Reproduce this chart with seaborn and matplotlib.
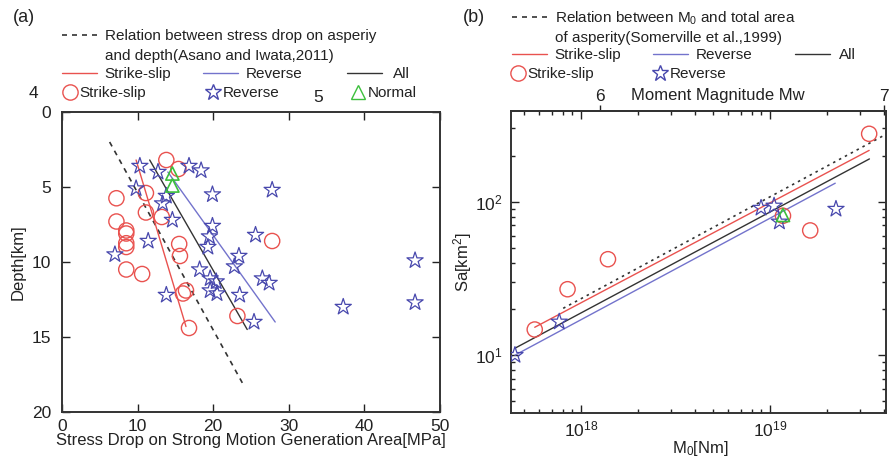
import numpy as np
import matplotlib
matplotlib.use("Agg")
import matplotlib.pyplot as plt
import seaborn as sns
from matplotlib.lines import Line2D
from matplotlib.ticker import FixedLocator, NullLocator, LogLocator, NullFormatter

# ---------------- data: panel (a) ----------------
ss_stress = [13.8, 15.4, 7.2, 11.1, 11.1, 13.2, 7.2, 8.5, 8.5, 8.5, 8.5, 15.5, 15.6,
             8.5, 10.6, 16.4, 16.0, 27.8, 16.8, 23.2]
ss_depth = [3.2, 3.8, 5.75, 5.4, 6.7, 7.0, 7.3, 7.9, 8.1, 8.75, 9.0, 8.8, 9.6,
            10.5, 10.8, 11.9, 12.1, 8.6, 14.4, 13.6]
rev_stress = [10.3, 12.7, 16.8, 18.4, 9.8, 19.9, 13.8, 13.3, 14.6, 27.8, 19.9, 19.5, 19.3,
              11.4, 7.0, 25.6, 23.4, 22.8, 18.2, 19.6, 26.5, 27.4, 20.4, 13.8, 20.5, 23.5,
              25.4, 37.2, 46.7, 46.7, 19.6]
rev_depth = [3.6, 4.0, 3.6, 3.9, 5.1, 5.5, 5.6, 6.1, 7.2, 5.2, 7.6, 8.3, 9.0,
             8.6, 9.5, 8.2, 9.6, 10.3, 10.5, 11.1, 11.1, 11.4, 11.3, 12.2, 12.1, 12.2,
             14.0, 13.0, 9.9, 12.7, 11.9]
nor_stress = [14.6, 14.6]
nor_depth = [4.1, 4.9]
# fitted relations (end points)
ss_fit_x, ss_fit_y = [9.8, 16.4], [3.2, 14.3]
rev_fit_x, rev_fit_y = [14.0, 28.2], [4.0, 14.0]
all_fit_x, all_fit_y = [11.6, 24.5], [3.2, 14.5]
asano_x, asano_y = [6.3, 23.9], [2.0, 18.1]

# ---------------- data: panel (b) ----------------
ss_m0 = [5.7e17, 8.5e17, 1.39e18, 1.17e19, 1.63e19, 3.34e19]
ss_sa = [14.7, 26.9, 42.2, 81.0, 65.0, 277.0]
rev_m0 = [4.48e17, 7.68e17, 8.96e18, 1.05e19, 1.12e19, 2.23e19]
rev_sa = [10.0, 16.5, 91.0, 94.0, 74.0, 89.6]
nor_m0 = [1.17e19]
nor_sa = [82.0]
somer_m0, somer_sa = [8.06e17, 4.1e19], [20.2, 275.0]
ss_fit_m0, ss_fit_sa = [5.7e17, 3.34e19], [15.2, 216.0]
all_fit_m0, all_fit_sa = [4.48e17, 3.35e19], [11.1, 190.0]
rev_fit_m0, rev_fit_sa = [4.48e17, 2.21e19], [10.0, 132.0]

a_xticks = [0, 10, 20, 30, 40, 50]
a_yticks = [0, 5, 10, 15, 20]
b_xticks = [1e18, 1e19]
b_yticks = [10, 100]
mw_ticks = [6, 7]

# ---------------- style ----------------
sns.set_theme(style="ticks")
plt.rcParams["font.family"] = ["Liberation Sans", "DejaVu Sans"]
plt.rcParams["mathtext.fontset"] = "custom"
plt.rcParams["mathtext.rm"] = "Liberation Sans"
plt.rcParams["mathtext.it"] = "Liberation Sans:italic"
plt.rcParams["text.color"] = "#222222"
plt.rcParams["axes.labelcolor"] = "#222222"

RED = "#e9524f"
BLUE_L = "#7373cc"
BLUE_S = "#4848ad"
BLACK = "#333333"
GREEN = "#3cbf3c"
W, H = 890, 465

fig = plt.figure(figsize=(8.9, 4.65), dpi=100)
axa = fig.add_axes([62 / W, 53 / H, 378 / W, 300 / H])
axb = fig.add_axes([511 / W, 52 / H, 375 / W, 302 / H])

# ---------------- panel (a) ----------------
sns.lineplot(x=asano_x, y=asano_y, ax=axa, color=BLACK, lw=1.2, ls=(0, (3, 3)),
             sort=False, estimator=None)
sns.lineplot(x=ss_fit_x, y=ss_fit_y, ax=axa, color=RED, lw=1.0, sort=False, estimator=None)
sns.lineplot(x=all_fit_x, y=all_fit_y, ax=axa, color=BLACK, lw=1.0, sort=False, estimator=None)
sns.lineplot(x=rev_fit_x, y=rev_fit_y, ax=axa, color=BLUE_L, lw=1.0, sort=False, estimator=None)
sns.scatterplot(x=ss_stress, y=ss_depth, ax=axa, marker="o", s=120, color=RED,
                facecolor="none", edgecolor=RED, linewidth=1.0, zorder=3)
sns.scatterplot(x=rev_stress, y=rev_depth, ax=axa, marker="*", s=150, color=BLUE_S,
                facecolor="none", edgecolor=BLUE_S, linewidth=0.9, zorder=3)
sns.scatterplot(x=nor_stress, y=nor_depth, ax=axa, marker="^", s=90, color=GREEN,
                facecolor="none", edgecolor=GREEN, linewidth=1.2, zorder=4)
axa.set_xlim(0, 50)
axa.set_ylim(20, 0)
axa.set_xticks(a_xticks)
axa.set_yticks(a_yticks)
axa.set_xlabel("Stress Drop on Strong Motion Generation Area[MPa]", fontsize=12)
axa.set_ylabel("Depth[km]", fontsize=12)
axa.xaxis.set_label_coords(0.5, -0.07)
axa.yaxis.set_label_coords(-0.095, 0.5)
axa.tick_params(which="both", direction="in", top=True, right=True, length=6, width=1,
                labelsize=12.5, colors="#222222")
axa.tick_params(axis="x", pad=5)
axa.tick_params(axis="y", pad=8)

# ---------------- panel (b) ----------------
axb.set_xscale("log")
axb.set_yscale("log")
axb.set_xlim(4.27e17, 4.1e19)
axb.set_ylim(4.2, 390)
sns.lineplot(x=somer_m0, y=somer_sa, ax=axb, color=BLACK, lw=1.2, ls=(0, (1.5, 2.5)),
             sort=False, estimator=None)
sns.lineplot(x=ss_fit_m0, y=ss_fit_sa, ax=axb, color=RED, lw=1.0, sort=False, estimator=None)
sns.lineplot(x=all_fit_m0, y=all_fit_sa, ax=axb, color=BLACK, lw=1.0, sort=False, estimator=None)
sns.lineplot(x=rev_fit_m0, y=rev_fit_sa, ax=axb, color=BLUE_L, lw=1.0, sort=False, estimator=None)
sns.scatterplot(x=ss_m0, y=ss_sa, ax=axb, marker="o", s=120, color=RED,
                facecolor="none", edgecolor=RED, linewidth=1.0, zorder=3)
sns.scatterplot(x=rev_m0, y=rev_sa, ax=axb, marker="*", s=150, color=BLUE_S,
                facecolor="none", edgecolor=BLUE_S, linewidth=0.9, zorder=3)
sns.scatterplot(x=nor_m0, y=nor_sa, ax=axb, marker="^", s=90, color=GREEN,
                facecolor="none", edgecolor=GREEN, linewidth=1.2, zorder=4)
axb.set_xlim(4.27e17, 4.1e19)
axb.set_ylim(4.2, 390)
axb.xaxis.set_major_locator(FixedLocator(b_xticks))
axb.xaxis.set_minor_locator(LogLocator(base=10, subs=np.arange(2, 10)))
axb.xaxis.set_minor_formatter(NullFormatter())
axb.yaxis.set_major_locator(FixedLocator(b_yticks))
axb.yaxis.set_minor_locator(LogLocator(base=10, subs=np.arange(2, 10)))
axb.yaxis.set_minor_formatter(NullFormatter())
axb.set_xlabel(r"M$_0$[Nm]", fontsize=12)
axb.set_ylabel(r"Sa[km$^2$]", fontsize=12)
axb.xaxis.set_label_coords(0.504, -0.085)
axb.yaxis.set_label_coords(-0.10, 0.5)
axb.tick_params(which="both", direction="in", top=True, right=True, width=1,
                labelsize=12.5, colors="#222222")
axb.tick_params(which="major", length=6)
axb.tick_params(which="minor", length=3)
axb.tick_params(axis="x", pad=5)
axb.tick_params(axis="y", pad=6)


def m0_to_mw(x):
    x = np.clip(np.asarray(x, dtype=float), 1e-300, None)
    return (np.log10(x) - 9.1) / 1.5


def mw_to_m0(m):
    return 10 ** (1.5 * np.asarray(m, dtype=float) + 9.1)


sec = axb.secondary_xaxis("top", functions=(m0_to_mw, mw_to_m0))
sec.set_xticks(mw_ticks, [str(t) for t in mw_ticks])
sec.xaxis.set_minor_locator(NullLocator())
sec.tick_params(direction="out", length=4, width=1, labelsize=12.5, pad=1, colors="#222222")
axb.text(0.552, 1.05, "Moment Magnitude Mw", transform=axb.transAxes, ha="center",
         va="center", fontsize=12)

for ax in (axa, axb):
    for sp in ax.spines.values():
        sp.set_linewidth(1.4)
        sp.set_color("#333333")
for sp in sec.spines.values():
    sp.set_linewidth(1.4)
    sp.set_color("#333333")

# ---------------- legends ----------------
LFS = 11


def entry(ax, handle, label, x_px, y_px, hl, pad):
    leg = ax.legend([handle], [label], loc="center left",
                    bbox_to_anchor=(x_px / W, 1 - y_px / H), bbox_transform=fig.transFigure,
                    frameon=False, borderpad=0, borderaxespad=0, handlelength=hl,
                    handletextpad=pad, fontsize=LFS)
    ax.legend_ = None
    ax.add_artist(leg)


def line_h(color, ls="-"):
    return Line2D([], [], color=color, lw=1.0 if ls == "-" else 1.2, ls=ls)


def mark_h(marker, color, ms):
    return Line2D([], [], ls="none", marker=marker, mfc="none", mec=color, ms=ms, mew=1.0)


# panel (a)
entry(axa, line_h(BLACK, (0, (3, 3))), "Relation between stress drop on asperiy", 62, 36, 2.3, 0.5)
fig.text(105 / W, 1 - 56 / H, "and depth(Asano and Iwata,2011)", fontsize=LFS, va="center", ha="left")
entry(axa, line_h(RED), "Strike-slip", 62, 74, 2.3, 0.5)
entry(axa, line_h(BLUE_L), "Reverse", 203, 74, 2.3, 0.5)
entry(axa, line_h(BLACK), "All", 347, 74, 2.3, 0.7)
entry(axa, mark_h("o", RED, 11), "Strike-slip", 62, 93, 1.0, 0.15)
entry(axa, mark_h("*", BLUE_S, 12), "Reverse", 205, 93, 1.0, 0.15)
entry(axa, mark_h("^", GREEN, 10), "Normal", 350, 93, 1.0, 0.15)

# panel (b)
entry(axb, line_h(BLACK, (0, (3, 3))), r"Relation between M$_0$ and total area", 512, 18, 2.3, 0.5)
fig.text(555 / W, 1 - 38 / H, "of asperity(Somerville et al.,1999)", fontsize=LFS, va="center", ha="left")
entry(axb, line_h(RED), "Strike-slip", 512, 55, 2.3, 0.5)
entry(axb, line_h(BLUE_L), "Reverse", 653, 55, 2.3, 0.5)
entry(axb, line_h(BLACK), "All", 795, 55, 2.3, 0.6)
entry(axb, mark_h("o", RED, 11), "Strike-slip", 510, 74, 1.0, 0.15)
entry(axb, mark_h("*", BLUE_S, 12), "Reverse", 652, 74, 1.0, 0.15)

# panel letters and stray magnitude labels
fig.text(13 / W, 1 - 18 / H, "(a)", fontsize=13, va="center", ha="left")
fig.text(463 / W, 1 - 18 / H, "(b)", fontsize=13, va="center", ha="left")
fig.text(33 / W, 1 - 94 / H, "4", fontsize=12.5, va="center", ha="center")
fig.text(318 / W, 1 - 97 / H, "5", fontsize=12.5, va="center", ha="center")

fig.savefig("out.png", dpi=100)
